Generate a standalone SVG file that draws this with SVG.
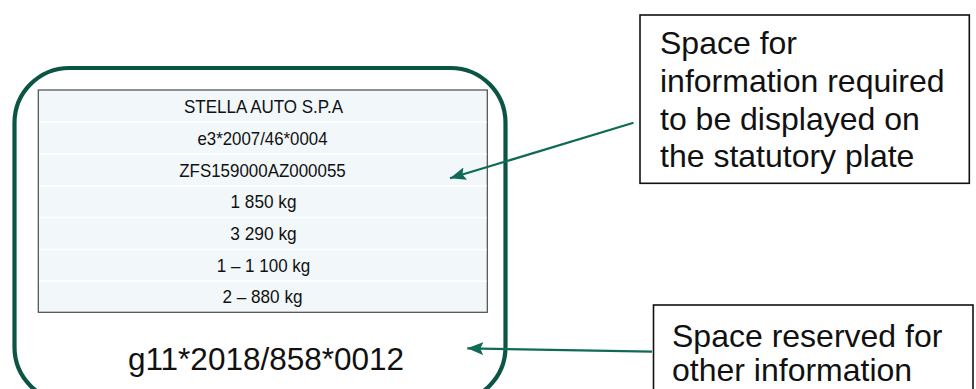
<svg xmlns="http://www.w3.org/2000/svg" width="976" height="389" viewBox="0 0 976 389">
<style>
  .plate{fill:#ffffff;stroke:#0b5544;stroke-width:4.2}
  .field{fill:#f2f7fa;stroke:#4a4a4a;stroke-width:1.2}
  .sep{stroke:#ffffff;stroke-width:1.5}
  .ft{font-family:"Liberation Sans",Arial,sans-serif;font-size:18.5px;fill:#111;text-anchor:middle}
  .big{font-family:"Liberation Sans",Arial,sans-serif;font-size:31.5px;fill:#111;text-anchor:middle}
  .callout{fill:#ffffff;stroke:#111;stroke-width:1.6}
  .ct{font-family:"Liberation Sans",Arial,sans-serif;font-size:32px;fill:#111}
  .conn{stroke:#0f6b55;stroke-width:2.2;fill:none}
</style>
<defs>
  <marker id="ah" markerUnits="userSpaceOnUse" markerWidth="17" markerHeight="13" refX="16" refY="6.5" orient="auto">
    <path d="M0,0 L16,6.5 L0,13 L3,6.5 z" fill="#0f6b55"/>
  </marker>
</defs>
<g id="plate">
  <rect class="plate" x="14.5" y="68" width="491" height="334" rx="55" ry="55"/>
</g>
<g id="statutory-field">
  <rect class="field" x="38.3" y="90" width="449" height="222.3"/>
  <line class="sep" x1="39" y1="122" x2="486.7" y2="122"/>
  <line class="sep" x1="39" y1="154" x2="486.7" y2="154"/>
  <line class="sep" x1="39" y1="185.7" x2="486.7" y2="185.7"/>
  <line class="sep" x1="39" y1="217.6" x2="486.7" y2="217.6"/>
  <line class="sep" x1="39" y1="249.5" x2="486.7" y2="249.5"/>
  <line class="sep" x1="39" y1="281" x2="486.7" y2="281"/>
  <text class="ft" x="263.5" y="113.3" textLength="159" lengthAdjust="spacingAndGlyphs">STELLA AUTO S.P.A</text>
  <text class="ft" x="262.5" y="144.5" textLength="130" lengthAdjust="spacingAndGlyphs">e3*2007/46*0004</text>
  <text class="ft" x="262.5" y="176.7" textLength="166.5" lengthAdjust="spacingAndGlyphs">ZFS159000AZ000055</text>
  <text class="ft" x="263.5" y="208.3" textLength="66" lengthAdjust="spacingAndGlyphs">1 850 kg</text>
  <text class="ft" x="263.5" y="240" textLength="66.5" lengthAdjust="spacingAndGlyphs">3 290 kg</text>
  <text class="ft" x="263.5" y="271.7" textLength="93.5" lengthAdjust="spacingAndGlyphs">1 – 1 100 kg</text>
  <text class="ft" x="262.5" y="303.3" textLength="80" lengthAdjust="spacingAndGlyphs">2 – 880 kg</text>
</g>
<g id="plate-number">
  <text class="big" x="266" y="370">g11*2018/858*0012</text>
</g>
<g id="callout-statutory">
  <rect class="callout" x="640" y="15" width="329.3" height="168.3"/>
  <text class="ct" x="660" y="53.5">Space for</text>
  <text class="ct" x="660" y="91.7">information required</text>
  <text class="ct" x="660" y="130">to be displayed on</text>
  <text class="ct" x="660" y="167">the statutory plate</text>
</g>
<g id="callout-other">
  <rect class="callout" x="653.5" y="305" width="319.5" height="100"/>
  <text class="ct" x="672" y="346.7">Space reserved for</text>
  <text class="ct" x="672" y="380.7">other information</text>
</g>
<g id="connectors">
  <line class="conn" x1="633.5" y1="122.7" x2="450" y2="178.3" marker-end="url(#ah)"/>
  <line class="conn" x1="652" y1="351.7" x2="467.3" y2="348.3" marker-end="url(#ah)"/>
</g>
</svg>
